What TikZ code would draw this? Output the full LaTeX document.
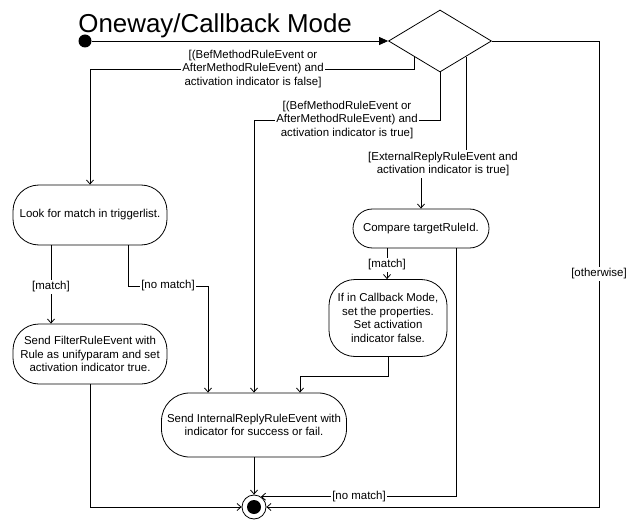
\documentclass[tikz,border=0pt]{standalone}
\usepackage{fontspec}
\setmainfont{Liberation Sans}
\usetikzlibrary{shapes.geometric,arrows.meta}
\begin{document}
\begin{tikzpicture}[x=1bp,y=-1bp,
  font=\fontsize{11.5}{13.6}\selectfont,
  line width=0.8bp,
  flow/.style={draw, -{Straight Barb[length=4bp,width=7bp]}},
  action/.style={draw, rectangle, fill=white, align=center, inner sep=0pt},
  lbl/.style={fill=white, align=center, inner sep=1.5bp}]
\useasboundingbox (0,0) rectangle (627,520);

% bend rows and connector columns
\coordinate (r1) at (0,69);
\coordinate (r2) at (0,120);
\coordinate (r3) at (0,164);
\coordinate (r4) at (0,286);
\coordinate (r5) at (0,376);
\coordinate (x51) at (51,0);
\coordinate (x128) at (128,0);
\coordinate (x208) at (208,0);
\coordinate (x300) at (300,0);
\coordinate (x387) at (387,0);
\coordinate (x456) at (456,0);
\coordinate (x599) at (599,0);

% title
\node[font=\fontsize{26}{30}\selectfont, anchor=base west, inner sep=0] (title) at (78,33) {Oneway/Callback Mode};

% initial node and decision
\node[circle, fill, minimum size=13bp, inner sep=0] (start) at (85,41) {};
\node[diamond, draw, minimum width=103bp, minimum height=62bp, inner sep=0] (dec) at (440,41) {};

% activities
\node[action, rounded corners=26bp, minimum width=154bp, minimum height=60bp] (look) at (90,215) {Look for match in triggerlist.};
\node[action, rounded corners=26bp, minimum width=154bp, minimum height=60bp] (filter) at (90,354) {Send FilterRuleEvent with\\Rule as unifyparam and set\\activation indicator true.};
\node[action, rounded corners=19.5bp, minimum width=136bp, minimum height=39bp] (compare) at (421,228.5) {Compare targetRuleId.};
\node[action, rounded corners=26bp, minimum width=118bp, minimum height=77bp] (ifcb) at (388,318) {If in Callback Mode,\\set the properties.\\Set activation\\indicator false.};
\node[action, rounded corners=28bp, minimum width=185bp, minimum height=64bp] (internal) at (254,425) {Send InternalReplyRuleEvent with\\indicator for success or fail.};

% final node
\node[circle, draw, fill=white, minimum size=24bp, inner sep=0] (final) at (254,507) {};
\fill (final.center) circle (7bp);

% connectors
\draw[-{Triangle[length=9bp,width=8bp]}] (start) -- (dec.west);
\draw[flow] (dec.south west) |- (look.north |- r1) -- (look.north);
\draw[flow] (dec.south) |- (internal.north |- r2) -- (internal.north);
\draw[flow] (dec.south east) |- (compare.north |- r3) -- (compare.north);
\draw[flow] (dec.east) -| (x599 |- final.center) -- (final.east);
\draw[flow] (look.south -| x51) -- (filter.north -| x51);
\draw[flow] (look.south -| x128) |- (x208 |- r4) -- (internal.north -| x208);
\draw[flow] (filter.south) |- (final.west);
\draw[flow] (compare.south -| x387) -- (ifcb.north -| x387);
\draw[flow] (compare.south -| x456) |- (final.56);
\draw[flow] (ifcb.south) |- (x300 |- r5) -- (internal.north -| x300);
\draw[flow] (internal.south) -- (final.north);

% guards
\node[lbl] (g1) at (253,69) {[(BefMethodRuleEvent or\\AfterMethodRuleEvent) and\\activation indicator is false]};
\node[lbl] (g2) at (347,120) {[(BefMethodRuleEvent or\\AfterMethodRuleEvent) and\\activation indicator is true]};
\node[lbl] (g3) at (443,164) {[ExternalReplyRuleEvent and\\activation indicator is true]};
\node[lbl] (g4) at (599,274) {[otherwise]};
\node[lbl] (g5) at (51,287) {[match]};
\node[lbl] (g6) at (168,286) {[no match]};
\node[lbl] (g7) at (387,265) {[match]};
\node[lbl] (g8) at (359,497) {[no match]};
\end{tikzpicture}
\end{document}
